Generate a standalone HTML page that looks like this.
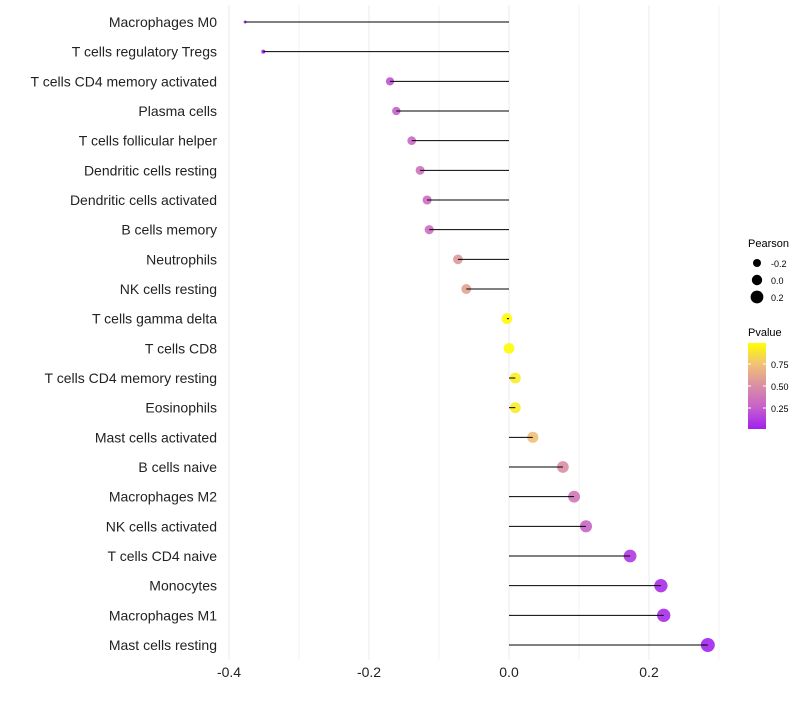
<!DOCTYPE html>
<html><head><meta charset="utf-8"><style>
body{margin:0;background:#fff;font-family:"Liberation Sans",sans-serif}
svg text{font-family:"Liberation Sans",sans-serif}
</style></head><body>
<svg id="chart" width="800" height="700" viewBox="0 0 800 700" xmlns="http://www.w3.org/2000/svg">
<defs><linearGradient id="pg" x1="0" y1="1" x2="0" y2="0">
<stop offset="0" stop-color="#a020f0"/><stop offset="0.25" stop-color="#c660cc"/><stop offset="0.5" stop-color="#da8ea4"/><stop offset="0.75" stop-color="#f0c078"/><stop offset="1" stop-color="#ffff00"/></linearGradient></defs>
<g id="grid"></g>
<g id="marks"></g>
<g id="labels"></g>
<g id="xticks"></g>
<g>
<text x="748" y="247" font-size="11">Pearson</text>
<circle cx="757" cy="263" r="4" fill="#000"/><text x="771" y="267" font-size="9">-0.2</text>
<circle cx="757" cy="280" r="5.2" fill="#000"/><text x="771" y="284" font-size="9">0.0</text>
<circle cx="757" cy="297" r="6.4" fill="#000"/><text x="771" y="301" font-size="9">0.2</text>
</g>
<g>
<text x="748" y="336" font-size="11">Pvalue</text>
<rect x="748" y="343" width="18" height="86" fill="url(#pg)"/>
<line x1="748" y1="364" x2="751" y2="364" stroke="#fff"/><line x1="763" y1="364" x2="766" y2="364" stroke="#fff"/>
<line x1="748" y1="386" x2="751" y2="386" stroke="#fff"/><line x1="763" y1="386" x2="766" y2="386" stroke="#fff"/>
<line x1="748" y1="408" x2="751" y2="408" stroke="#fff"/><line x1="763" y1="408" x2="766" y2="408" stroke="#fff"/>
<text x="771" y="368" font-size="9">0.75</text><text x="771" y="390" font-size="9">0.50</text><text x="771" y="412" font-size="9">0.25</text>
</g>
</svg>
<script>
const categories=["Macrophages M0","T cells regulatory  Tregs","T cells CD4 memory activated","Plasma cells","T cells follicular helper","Dendritic cells resting","Dendritic cells activated","B cells memory","Neutrophils","NK cells resting","T cells gamma delta","T cells CD8","T cells CD4 memory resting","Eosinophils","Mast cells activated","B cells naive","Macrophages M2","NK cells activated","T cells CD4 naive","Monocytes","Macrophages M1","Mast cells resting"];
const pearson=[-0.377,-0.351,-0.170,-0.161,-0.139,-0.127,-0.117,-0.114,-0.073,-0.061,-0.003,0.0,0.009,0.009,0.034,0.077,0.093,0.110,0.173,0.217,0.221,0.284];
const pvalues=[0.0,0.01,0.2,0.25,0.3,0.35,0.32,0.32,0.55,0.6,0.98,0.99,0.93,0.92,0.75,0.5,0.38,0.28,0.1,0.05,0.05,0.02];
const xTicks=[-0.4,-0.2,0.0,0.2];
const xTickLabels=["-0.4","-0.2","0.0","0.2"];
const NS="http://www.w3.org/2000/svg";
const x=v=>509+700*v;
const y=i=>22+i*(623/(categories.length-1));
function mk(t,a,p){const e=document.createElementNS(NS,t);for(const k in a)e.setAttribute(k,a[k]);p.appendChild(e);return e;}
const stops=[[0,[160,32,240]],[0.25,[198,96,204]],[0.5,[218,142,164]],[0.75,[240,192,120]],[1,[255,255,0]]];
function col(p){for(let i=1;i<stops.length;i++){if(p<=stops[i][0]){const a=stops[i-1],b=stops[i],t=(p-a[0])/(b[0]-a[0]);return 'rgb('+a[1].map((c,j)=>Math.round(c+(b[1][j]-c)*t)).join(',')+')';}}return 'rgb(255,255,0)';}
const grid=document.getElementById('grid'),marks=document.getElementById('marks'),labels=document.getElementById('labels'),xt=document.getElementById('xticks');
for(let v=-0.4;v<=0.31;v+=0.1){const l=mk('line',{x1:x(v),x2:x(v),y1:5,y2:660,stroke:'#ebebeb','stroke-width':Math.abs(Math.round(v*10))%2===0?1:0.6},grid);

}
xTicks.forEach((v,i)=>{const t=mk('text',{x:x(v),y:677,'font-size':14,'text-anchor':'middle',fill:'#222'},xt);t.textContent=xTickLabels[i];

});
categories.forEach((c,i)=>{
const t=mk('text',{x:217,y:y(i)+5,'font-size':14,'text-anchor':'end',fill:'#222'},labels);t.textContent=c;


const d=Math.sqrt(Math.max(4,9+283*(pearson[i]+0.377)));
const pt=mk('circle',{cx:x(pearson[i]),cy:y(i),r:d/2,fill:col(pvalues[i]),'fill-opacity':0.9},marks);


const s=mk('line',{x1:x(0),x2:x(pearson[i]),y1:y(i),y2:y(i),stroke:'#000','stroke-width':1},marks);


});
</script>
</body></html>
